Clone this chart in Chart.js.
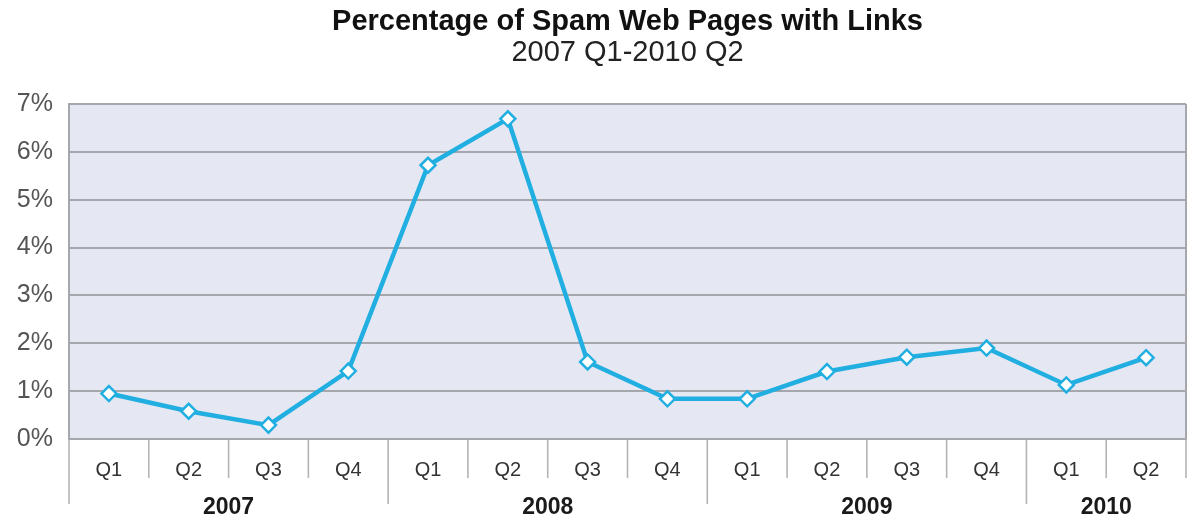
<!DOCTYPE html>
<html>
<head>
<meta charset="utf-8">
<title>Percentage of Spam Web Pages with Links</title>
<script src="https://cdn.jsdelivr.net/npm/chart.js@4"></script>
<style>
  html, body { margin: 0; padding: 0; background: #ffffff; }
  #wrap { width: 1196px; height: 521px; }
</style>
</head>
<body>
<div id="wrap"><canvas id="chart" width="1196" height="521"></canvas></div>
<script>
// Quarterly share of spam web pages containing links
const quarters = ['Q1', 'Q2', 'Q3', 'Q4', 'Q1', 'Q2', 'Q3', 'Q4', 'Q1', 'Q2', 'Q3', 'Q4', 'Q1', 'Q2'];
const years = ['2007', '2008', '2009', '2010'];
const quartersPerYear = [4, 4, 4, 2];
const spamLinkPct = [0.95, 0.58, 0.29, 1.42, 5.72, 6.69, 1.61, 0.84, 0.84, 1.41, 1.71, 1.90, 1.13, 1.70];
const yTicks = [0, 1, 2, 3, 4, 5, 6, 7];

const titleText = 'Percentage of Spam Web Pages with Links';
const subtitleText = '2007 Q1-2010 Q2';

const FONT = '"Liberation Sans", Arial, Helvetica, sans-serif';
const LINE_COLOR = '#21afe1';
const GRID_COLOR = '#a6a7ad';
const SEP_COLOR = '#b4b4b8';
const PLOT_BG = '#e5e7f2';

// Plot background, grouped year axis and centred headings
const decorations = {
  id: 'decorations',
  beforeDraw(chart) {
    const { ctx, chartArea: a } = chart;
    ctx.save();
    ctx.fillStyle = PLOT_BG;
    ctx.fillRect(a.left, a.top, a.right - a.left, a.bottom - a.top);
    ctx.restore();
  },
  afterDraw(chart) {
    const { ctx, chartArea: a } = chart;
    const x = chart.scales.x;
    const n = quarters.length;

    // right-hand frame edge
    ctx.save();
    ctx.strokeStyle = GRID_COLOR;
    ctx.lineWidth = 2;
    ctx.beginPath();
    ctx.moveTo(a.right, a.top);
    ctx.lineTo(a.right, a.bottom);
    ctx.stroke();

    // separators between quarters, longer ones between years
    const boundaries = new Set();
    let acc = 0;
    quartersPerYear.forEach(c => { boundaries.add(acc); acc += c; });
    ctx.strokeStyle = SEP_COLOR;
    ctx.lineWidth = 1.6;
    for (let i = 0; i <= n; i++) {
      let px;
      if (i === 0) px = a.left;
      else if (i === n) px = a.right;
      else px = (x.getPixelForValue(i - 1) + x.getPixelForValue(i)) / 2;
      const long = boundaries.has(i) && i !== n;
      ctx.beginPath();
      ctx.moveTo(px, a.bottom + 1);
      ctx.lineTo(px, a.bottom + (long ? 65 : 39));
      ctx.stroke();
    }

    // year labels centred under their quarters
    ctx.fillStyle = '#1a1a1a';
    ctx.font = 'bold 23px ' + FONT;
    ctx.textAlign = 'center';
    ctx.textBaseline = 'middle';
    let start = 0;
    years.forEach((yr, k) => {
      const end = start + quartersPerYear[k];
      const left = start === 0 ? a.left : (x.getPixelForValue(start - 1) + x.getPixelForValue(start)) / 2;
      const right = end === n ? a.right : (x.getPixelForValue(end - 1) + x.getPixelForValue(end)) / 2;
      ctx.fillText(yr, (left + right) / 2, a.bottom + 69);
      start = end;
    });

    // headings
    const cx = (a.left + a.right) / 2;
    ctx.fillStyle = '#111111';
    ctx.font = 'bold 29px ' + FONT;
    ctx.fillText(titleText, cx, 22);
    ctx.fillStyle = '#222222';
    ctx.font = '29px ' + FONT;
    ctx.fillText(subtitleText, cx, 53);
    ctx.restore();
  }
};

new Chart(document.getElementById('chart'), {
  type: 'line',
  data: {
    labels: quarters,
    datasets: [{
      data: spamLinkPct,
      borderColor: LINE_COLOR,
      borderWidth: 4.5,
      tension: 0,
      pointStyle: 'rectRot',
      pointRadius: 7.5,
      pointHoverRadius: 7.5,
      pointBackgroundColor: '#ffffff',
      pointBorderColor: LINE_COLOR,
      pointBorderWidth: 2.5
    }]
  },
  options: {
    responsive: false,
    animation: false,
    events: [],
    layout: { padding: { top: 104, right: 6, bottom: 0, left: 0 } },
    plugins: {
      legend: { display: false },
      title: { display: false },
      tooltip: { enabled: false }
    },
    scales: {
      x: {
        type: 'category',
        offset: true,
        grid: { display: false },
        border: { display: true, color: GRID_COLOR, width: 2 },
        ticks: {
          color: '#333333',
          font: { family: FONT, size: 20 },
          padding: 11,
          maxRotation: 0,
          autoSkip: false
        },
        afterFit(scale) { scale.height = 82; }
      },
      y: {
        min: 0,
        max: 7,
        afterBuildTicks(scale) { scale.ticks = yTicks.map(v => ({ value: v })); },
        grid: { color: GRID_COLOR, lineWidth: 2, drawTicks: false },
        border: { display: true, color: GRID_COLOR, width: 2 },
        ticks: {
          color: '#555555',
          font: { family: FONT, size: 25 },
          padding: 16,
          callback: v => v + '%'
        },
        afterFit(scale) { scale.width = 69; }
      }
    }
  },
  plugins: [decorations]
});
</script>
</body>
</html>
